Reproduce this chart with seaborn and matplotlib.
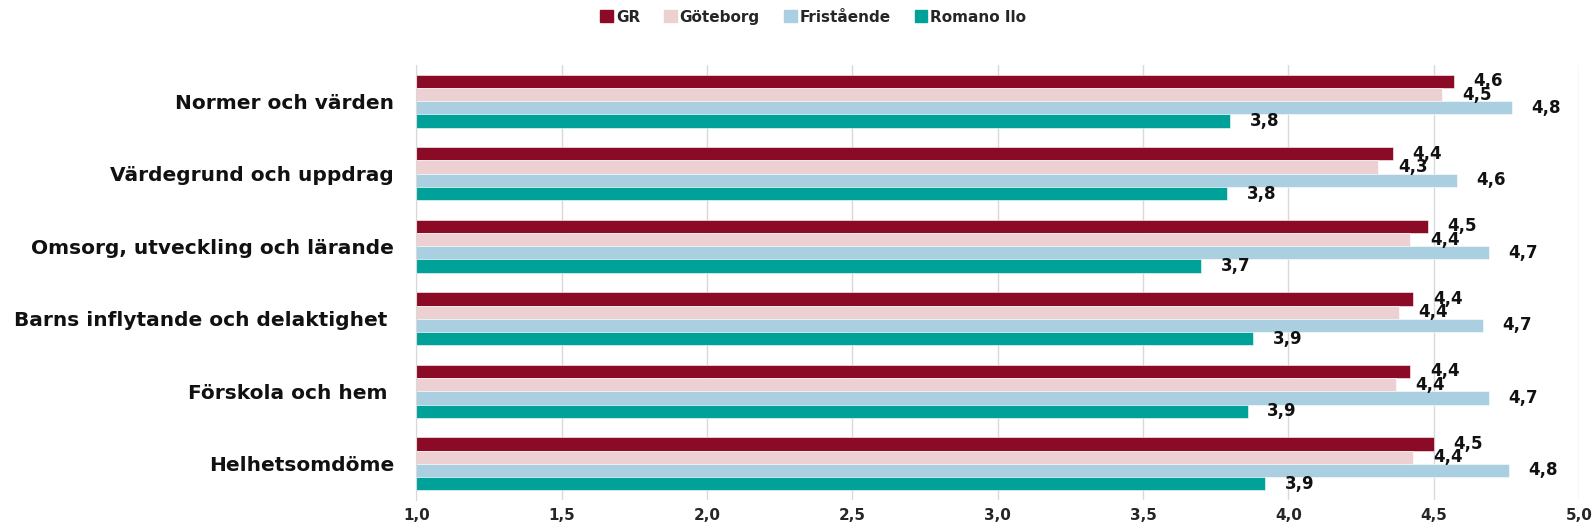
import pandas as pd
import seaborn as sns
import matplotlib.pyplot as plt
from matplotlib.ticker import MultipleLocator, FuncFormatter

# categories and series
categories = [
    "Normer och värden",
    "Värdegrund och uppdrag",
    "Omsorg, utveckling och lärande",
    "Barns inflytande och delaktighet ",
    "Förskola och hem ",
    "Helhetsomdöme",
]
series = ["GR", "Göteborg", "Fristående", "Romano Ilo"]
gr = [4.57, 4.36, 4.48, 4.43, 4.42, 4.50]
goteborg = [4.53, 4.31, 4.42, 4.38, 4.37, 4.43]
fristaende = [4.77, 4.58, 4.69, 4.67, 4.69, 4.76]
romano = [3.80, 3.79, 3.70, 3.88, 3.86, 3.92]
colors = ["#8B0A26", "#EDD0D2", "#A9CFE0", "#00A199"]

rows = []
for name, vals in zip(series, [gr, goteborg, fristaende, romano]):
    for cat, v in zip(categories, vals):
        rows.append({"Område": cat, "Grupp": name, "Värde": v})
df = pd.DataFrame(rows)

sns.set_style("white")
plt.rcParams["font.family"] = ["DejaVu Sans"]

fig = plt.figure(figsize=(15.95, 5.32), dpi=100)
ax = fig.add_axes([0.261, 0.060, 0.729, 0.818])

sns.barplot(data=df, y="Område", x="Värde", hue="Grupp", palette=colors,
            orient="h", width=0.73, saturation=1, ax=ax, legend=False,
            edgecolor="white", linewidth=0.4)

# value labels with comma decimals
for cont, vals in zip(ax.containers, [gr, goteborg, fristaende, romano]):
    labs = [f"{v:.1f}".replace(".", ",") for v in vals]
    ax.bar_label(cont, labels=labs, padding=14, fontsize=12,
                 fontweight="bold", color="#111111")

ax.set_xlim(1.0, 5.0)
ax.set_ylim(5.5, -0.5)
ax.xaxis.set_major_locator(MultipleLocator(0.5))
ax.xaxis.set_major_formatter(FuncFormatter(lambda v, p: f"{v:.1f}".replace(".", ",")))
ax.grid(axis="x", color="#d9d9d9", linewidth=1)
ax.set_axisbelow(True)

for s in ["top", "right", "bottom"]:
    ax.spines[s].set_visible(False)
ax.spines["left"].set_color("#d9d9d9")

ax.set_xlabel("")
ax.set_ylabel("")
ax.tick_params(axis="x", length=0, labelsize=11, pad=6)
for t in ax.get_xticklabels():
    t.set_fontweight("bold")
ax.tick_params(axis="y", length=0, labelsize=14.5, pad=16)
for t in ax.get_yticklabels():
    t.set_fontweight("bold")
    t.set_color("#111111")

# small separators between categories on the y axis
ax.set_yticks([i - 0.5 for i in range(len(categories) + 1)], minor=True)
ax.tick_params(axis="y", which="minor", length=6, color="#d9d9d9", width=1)

handles = [plt.Rectangle((0, 0), 1, 1, color=c) for c in colors]
fig.legend(handles, series, loc="center", bbox_to_anchor=(0.51, 0.968), ncol=4,
           frameon=False, prop={"size": 11, "weight": "bold"}, handlelength=0.8,
           handleheight=0.8, handletextpad=0.2, columnspacing=1.6)

fig.savefig("out.png", dpi=100)
